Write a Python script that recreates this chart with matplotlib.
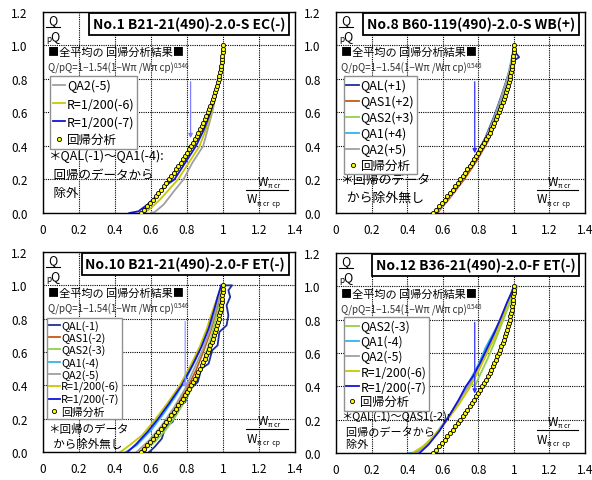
import matplotlib.pyplot as plt

plt.rcParams['font.family'] = ['Noto Sans CJK JP', 'DejaVu Sans']

xticks = [0, 0.2, 0.4, 0.6, 0.8, 1.0, 1.2, 1.4]
xtick_labels = ["0", "0.2", "0.4", "0.6", "0.8", "1", "1.2", "1.4"]
yticks = [0.0, 0.2, 0.4, 0.6, 0.8, 1.0, 1.2]
ytick_labels = ["0.0", "0.2", "0.4", "0.6", "0.8", "1.0", "1.2"]

# regression curve (W/Wcp , Q/pQ)
reg_q = [0.00, 0.02, 0.04, 0.06, 0.08, 0.10, 0.12, 0.14, 0.16, 0.18, 0.20, 0.22, 0.24,
         0.26, 0.28, 0.30, 0.32, 0.34, 0.36, 0.38, 0.40, 0.42, 0.44, 0.46, 0.48, 0.50,
         0.52, 0.54, 0.56, 0.58, 0.60, 0.62, 0.64, 0.66, 0.68, 0.70, 0.72, 0.74, 0.76,
         0.78, 0.80, 0.82, 0.84, 0.86, 0.88, 0.90, 0.92, 0.94, 0.96, 0.98, 1.00]
reg_w = [0.547, 0.563, 0.579, 0.595, 0.611, 0.626, 0.641, 0.656, 0.671, 0.685, 0.699, 0.712, 0.726,
         0.739, 0.752, 0.764, 0.776, 0.788, 0.800, 0.811, 0.822, 0.833, 0.843, 0.853, 0.863, 0.873,
         0.882, 0.891, 0.899, 0.907, 0.915, 0.923, 0.930, 0.937, 0.944, 0.950, 0.956, 0.962, 0.967,
         0.972, 0.976, 0.980, 0.984, 0.988, 0.991, 0.993, 0.996, 0.997, 0.999, 1.000, 1.000]

# No.1
p1_qa2_x = [0.60, 0.62, 0.67, 0.72, 0.78, 0.83, 0.89, 0.915, 0.94, 0.96, 0.975]
p1_qa2_y = [0.00, 0.005, 0.05, 0.12, 0.20, 0.30, 0.40, 0.50, 0.60, 0.70, 0.78]
p1_r6_x = [0.56, 0.60, 0.65, 0.70, 0.75, 0.81, 0.87, 0.905, 0.935, 0.96, 0.975]
p1_r6_y = [0.00, 0.03, 0.08, 0.14, 0.20, 0.30, 0.40, 0.50, 0.60, 0.70, 0.78]
p1_r7_x = [0.48, 0.53, 0.58, 0.64, 0.69, 0.73, 0.79, 0.85, 0.895, 0.93, 0.96, 0.975]
p1_r7_y = [0.00, 0.01, 0.05, 0.11, 0.17, 0.20, 0.30, 0.40, 0.50, 0.60, 0.70, 0.78]

# No.8
p2_qal_x = [0.56, 0.62, 0.70, 0.78, 0.84, 0.89, 0.93, 0.97, 1.00, 1.03, 1.00, 1.00]
p2_qal_y = [0.00, 0.08, 0.20, 0.33, 0.45, 0.58, 0.70, 0.83, 0.91, 0.93, 0.97, 1.00]
p2_qas1_x = [0.57, 0.64, 0.72, 0.79, 0.855, 0.90, 0.94, 0.975, 1.00, 1.00]
p2_qas1_y = [0.00, 0.09, 0.20, 0.31, 0.43, 0.55, 0.67, 0.79, 0.90, 1.00]
p2_qas2_x = [0.56, 0.63, 0.71, 0.78, 0.845, 0.895, 0.935, 0.97, 0.995, 1.00]
p2_qas2_y = [0.00, 0.09, 0.20, 0.32, 0.44, 0.57, 0.69, 0.81, 0.93, 1.00]
p2_qa1_x = [0.56, 0.63, 0.705, 0.775, 0.84, 0.89, 0.93, 0.965, 0.99, 1.00]
p2_qa1_y = [0.00, 0.09, 0.20, 0.32, 0.44, 0.57, 0.69, 0.81, 0.93, 1.00]
p2_qa2_x = [0.565, 0.635, 0.71, 0.78, 0.84, 0.89, 0.93, 0.965, 0.99, 1.00]
p2_qa2_y = [0.00, 0.09, 0.20, 0.32, 0.44, 0.57, 0.69, 0.81, 0.93, 1.00]

# No.10
p3_qal_x = [0.59, 0.62, 0.66, 0.68, 0.72, 0.75, 0.79, 0.82, 0.86, 0.88, 0.92, 0.94, 0.97, 0.98,
            1.02, 1.03, 1.02, 1.04, 1.03, 1.05, 1.00]
p3_qal_y = [0.00, 0.03, 0.08, 0.15, 0.18, 0.27, 0.30, 0.38, 0.42, 0.50, 0.53, 0.61, 0.64, 0.72,
            0.76, 0.82, 0.88, 0.93, 0.97, 1.00, 1.00]
p3_qas1_x = [0.54, 0.61, 0.68, 0.74, 0.80, 0.85, 0.89, 0.93, 0.96, 0.98, 1.00]
p3_qas1_y = [0.00, 0.08, 0.18, 0.27, 0.38, 0.49, 0.60, 0.72, 0.83, 0.92, 1.00]
p3_qas2_x = [0.55, 0.62, 0.68, 0.74, 0.79, 0.84, 0.88, 0.91, 0.94, 0.96, 0.98, 1.00]
p3_qas2_y = [0.00, 0.06, 0.13, 0.22, 0.31, 0.41, 0.51, 0.61, 0.71, 0.80, 0.88, 1.00]
p3_qa1_x = [0.46, 0.52, 0.60, 0.67, 0.74, 0.80, 0.85, 0.89, 0.93, 0.96, 0.99]
p3_qa1_y = [0.00, 0.04, 0.13, 0.23, 0.34, 0.45, 0.56, 0.67, 0.78, 0.89, 1.00]
p3_qa2_x = [0.52, 0.59, 0.66, 0.73, 0.79, 0.84, 0.89, 0.93, 0.96, 0.98, 1.00]
p3_qa2_y = [0.00, 0.07, 0.16, 0.27, 0.38, 0.50, 0.62, 0.74, 0.85, 0.94, 1.00]
p3_r6_x = [0.43, 0.48, 0.55, 0.62, 0.69, 0.76, 0.82, 0.87, 0.91, 0.94, 0.97, 1.00]
p3_r6_y = [0.00, 0.04, 0.10, 0.19, 0.29, 0.40, 0.52, 0.63, 0.74, 0.84, 0.93, 1.00]
p3_r7_x = [0.47, 0.52, 0.58, 0.64, 0.70, 0.77, 0.83, 0.88, 0.92, 0.95, 0.97, 0.99]
p3_r7_y = [0.00, 0.05, 0.12, 0.20, 0.29, 0.40, 0.52, 0.63, 0.74, 0.85, 0.93, 1.00]

# No.12
p4_qas2_x = [0.44, 0.49, 0.55, 0.62, 0.68, 0.72, 0.76, 0.78, 0.81, 0.85, 0.89, 0.93, 0.97, 1.00, 1.02]
p4_qas2_y = [0.00, 0.04, 0.10, 0.20, 0.29, 0.37, 0.42, 0.40, 0.47, 0.56, 0.66, 0.77, 0.88, 0.96, 1.00]
p4_qa1_x = [0.41, 0.46, 0.52, 0.58, 0.64, 0.70, 0.75, 0.80, 0.84, 0.88, 0.92, 0.96, 1.00]
p4_qa1_y = [0.00, 0.005, 0.06, 0.14, 0.23, 0.33, 0.43, 0.53, 0.63, 0.71, 0.79, 0.89, 1.00]
p4_qa2_x = [0.45, 0.51, 0.57, 0.63, 0.69, 0.75, 0.80, 0.85, 0.89, 0.93, 0.97, 1.00]
p4_qa2_y = [0.00, 0.05, 0.12, 0.21, 0.31, 0.41, 0.51, 0.61, 0.71, 0.81, 0.91, 1.00]
p4_r6_x = [0.43, 0.49, 0.55, 0.62, 0.69, 0.75, 0.80, 0.85, 0.90, 0.94, 0.97, 1.00]
p4_r6_y = [0.00, 0.04, 0.10, 0.19, 0.29, 0.39, 0.49, 0.60, 0.71, 0.82, 0.91, 1.00]
p4_r7_x = [0.47, 0.52, 0.58, 0.64, 0.69, 0.73, 0.77, 0.81, 0.85, 0.89, 0.93, 0.96, 0.99, 1.00]
p4_r7_y = [0.00, 0.05, 0.13, 0.23, 0.32, 0.40, 0.46, 0.54, 0.63, 0.72, 0.82, 0.90, 0.97, 1.00]

navy = '#1f2f9a'
brown = '#c55a11'
lgreen = '#92d050'
lblue = '#2fb5ec'
gray = '#a0a0a0'
yel = '#c8c800'
blue = '#1414d8'

fig = plt.figure(figsize=(5.92, 4.81), dpi=100)
rects = [[0.0726, 0.5551, 0.4257, 0.4179], [0.5676, 0.5551, 0.4206, 0.4179],
         [0.0726, 0.0582, 0.4257, 0.4158], [0.5676, 0.0561, 0.4206, 0.4158]]


def panel(r, title, series, leg_xy, leg_fs, leg_sp, note, note_y, note_fs,
          arrow, arrow_col, head_y, text_y):
    ax = fig.add_axes(r)
    ax.set_xlim(0, 1.4)
    ax.set_ylim(0, 1.2)
    ax.set_xticks(xticks)
    ax.set_xticklabels(xtick_labels, fontsize=8.5)
    ax.set_yticks(yticks)
    ax.set_yticklabels(ytick_labels, fontsize=8.5)
    ax.tick_params(length=0)
    ax.tick_params(axis='y', pad=11)
    ax.tick_params(axis='x', pad=7)
    ax.grid(True, color='black', linestyle=(0, (1, 1)), linewidth=0.8)
    for s in ax.spines.values():
        s.set_linewidth(1.0)
    for x, y, c, lab in series:
        ax.plot(x, y, color=c, lw=1.3, label=lab)
    ax.plot(reg_w, reg_q, 'o-', color='black', lw=0.7, ms=3.0, mfc='#ffff00', mec='black',
            mew=0.6, label='回帰分析', zorder=5)
    ax.annotate('', xy=(arrow, head_y), xytext=(arrow, 0.80),
                arrowprops=dict(arrowstyle='-|>', color=arrow_col, lw=0.9, mutation_scale=6))
    leg = ax.legend(loc='upper left', bbox_to_anchor=leg_xy, bbox_transform=ax.transData,
                    fontsize=leg_fs, frameon=True, fancybox=False, edgecolor='#909090',
                    handlelength=1.0, handletextpad=0.15, borderpad=0.2, labelspacing=leg_sp,
                    borderaxespad=0, framealpha=1)
    leg.legend_handles[-1].set_linestyle('none')
    ax.text(1.345, 1.126, title, ha='right', va='center', fontsize=10, fontweight='bold',
            bbox=dict(boxstyle='square,pad=0.28', fc='white', ec='black', lw=1.3), zorder=6)
    # y label
    ax.text(0.055, 1.155, 'Q', ha='center', va='center', fontsize=9)
    ax.plot([0.015, 0.095], [1.108, 1.108], color='black', lw=0.8, clip_on=False)
    ax.text(0.035, 1.04, 'p', ha='center', va='center', fontsize=6)
    ax.text(0.065, 1.058, 'Q', ha='center', va='center', fontsize=9)
    # x label
    t1 = ax.text(1.19, 0.19, 'W', ha='left', va='center', fontsize=8.5)
    ax.annotate('π cr', xy=(1.0, 0.2), xycoords=t1, fontsize=5, va='center')
    ax.plot([1.13, 1.36], [0.138, 0.138], color='black', lw=0.8)
    t2 = ax.text(1.13, 0.084, 'W', ha='left', va='center', fontsize=8.5)
    ax.annotate('π cr  cp', xy=(1.0, 0.2), xycoords=t2, fontsize=5, va='center')
    # regression text
    ax.text(0.03, text_y, '■全平均の 回帰分析結果■', ha='left', va='center', fontsize=8)
    t3 = ax.text(0.03, text_y - 0.095, 'Q/pQ=1−1.54(1−Wπ /Wπ cp)', ha='left', va='center',
                 fontsize=7, color='#303030')
    ax.annotate('0.546', xy=(1.0, 0.75), xycoords=t3, fontsize=4.5, va='center', color='#303030')
    for i, line in enumerate(note):
        ax.text(0.03, note_y[i], line, ha='left', va='center', fontsize=note_fs)
    return ax


panel(rects[0], 'No.1 B21-21(490)-2.0-S EC(-)',
      [(p1_qa2_x, p1_qa2_y, gray, 'QA2(-5)'),
       (p1_r6_x, p1_r6_y, yel, 'R=1/200(-6)'),
       (p1_r7_x, p1_r7_y, blue, 'R=1/200(-7)')],
      (0.04, 0.815), 9, 0.4,
      ['＊QAL(-1)～QA1(-4):', '  回帰のデータから', '  除外'], [0.345, 0.23, 0.125], 9,
      0.82, '#7f7fff', 0.43, 0.964)

panel(rects[1], 'No.8 B60-119(490)-2.0-S WB(+)',
      [(p2_qal_x, p2_qal_y, navy, 'QAL(+1)'),
       (p2_qas1_x, p2_qas1_y, brown, 'QAS1(+2)'),
       (p2_qas2_x, p2_qas2_y, lgreen, 'QAS2(+3)'),
       (p2_qa1_x, p2_qa1_y, lblue, 'QA1(+4)'),
       (p2_qa2_x, p2_qa2_y, gray, 'QA2(+5)')],
      (0.044, 0.815), 9, 0.22,
      ['＊回帰のデータ', '  から除外無し'], [0.2, 0.096], 9.3,
      0.78, '#3030ff', 0.34, 0.964)

panel(rects[2], 'No.10 B21-21(490)-2.0-F ET(-)',
      [(p3_qal_x, p3_qal_y, navy, 'QAL(-1)'),
       (p3_qas1_x, p3_qas1_y, brown, 'QAS1(-2)'),
       (p3_qas2_x, p3_qas2_y, lgreen, 'QAS2(-3)'),
       (p3_qa1_x, p3_qa1_y, lblue, 'QA1(-4)'),
       (p3_qa2_x, p3_qa2_y, gray, 'QA2(-5)'),
       (p3_r6_x, p3_r6_y, yel, 'R=1/200(-6)'),
       (p3_r7_x, p3_r7_y, blue, 'R=1/200(-7)')],
      (0.02, 0.805), 7.8, 0.12,
      ['＊回帰のデータ', '  から除外無し'], [0.14, 0.05], 8.3,
      0.79, '#9999ff', 0.37, 0.958)

panel(rects[3], 'No.12 B36-21(490)-2.0-F ET(-)',
      [(p4_qas2_x, p4_qas2_y, lgreen, 'QAS2(-3)'),
       (p4_qa1_x, p4_qa1_y, lblue, 'QA1(-4)'),
       (p4_qa2_x, p4_qa2_y, gray, 'QA2(-5)'),
       (p4_r6_x, p4_r6_y, yel, 'R=1/200(-6)'),
       (p4_r7_x, p4_r7_y, blue, 'R=1/200(-7)')],
      (0.044, 0.815), 8.8, 0.16,
      ['＊QAL(-1)～QAS1(-2):', '  回帰のデータから', '  除外'], [0.225, 0.128, 0.052], 8.0,
      0.78, '#3030ff', 0.34, 0.958)

fig.savefig('out.png', dpi=100)
